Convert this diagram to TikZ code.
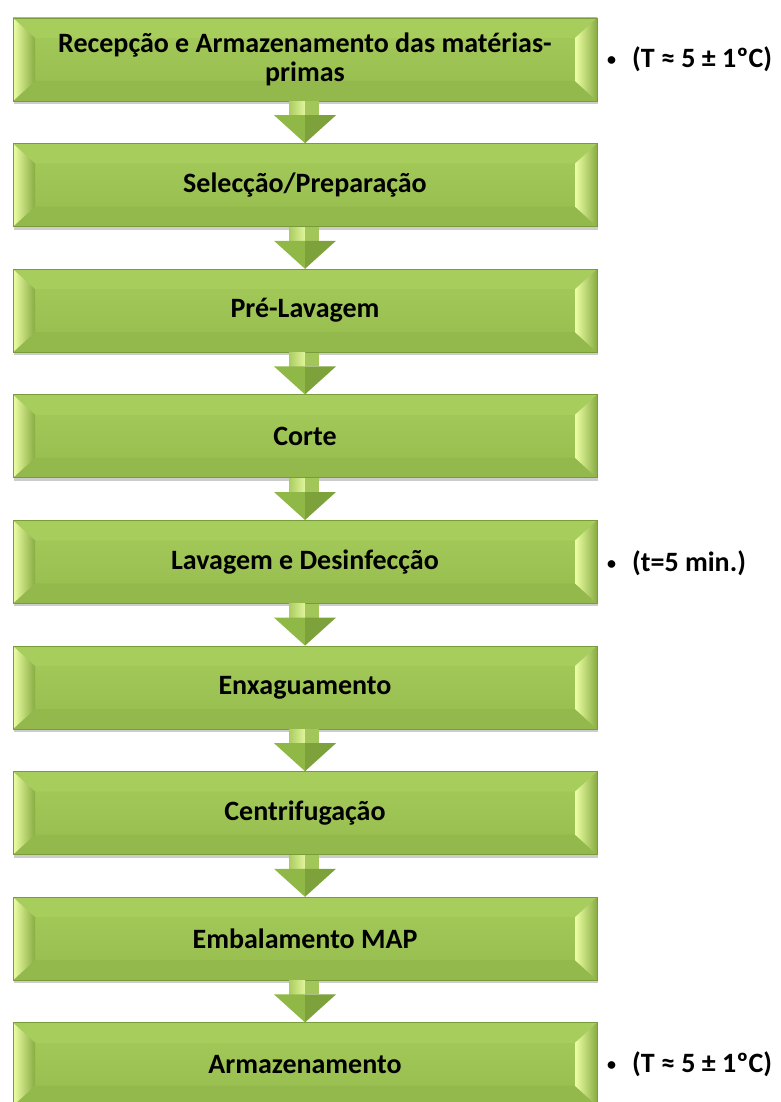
\documentclass[tikz,border=0pt]{standalone}
\usepackage{fontspec}
\setmainfont{Carlito}
\usetikzlibrary{calc,shadows}
\definecolor{boxtop}{HTML}{A5CB5B}
\definecolor{boxbot}{HTML}{96BC4E}
\definecolor{boxline}{HTML}{789C3A}
\definecolor{bevlight}{HTML}{EEFFA6}
\definecolor{bevdark}{HTML}{88AC42}
\definecolor{bevtop}{HTML}{A7CD5D}
\definecolor{bevbot}{HTML}{93B84B}
\definecolor{shaftA}{HTML}{A9CD60}
\definecolor{shaftB}{HTML}{E2F59C}
\definecolor{shaftC}{HTML}{A2C65A}
\definecolor{headL}{HTML}{8FB847}
\definecolor{headR}{HTML}{7DA23B}
\tikzset{
  stepbox/.style={rectangle, draw=boxline, line width=0.8pt, top color=boxtop, bottom color=boxbot,
    minimum width=584pt, minimum height=83pt, inner sep=0pt, align=center,
    font=\bfseries\fontsize{28}{28.5}\selectfont, text=black,
    drop shadow={shadow xshift=1pt, shadow yshift=-3pt, opacity=0.2, fill=black},
    path picture={
      \fill[bevtop] (path picture bounding box.north west) -- ++(22,20) -- ($(path picture bounding box.north east)+(-22,20)$) -- (path picture bounding box.north east) -- cycle;
      \fill[bevbot] (path picture bounding box.south west) -- ++(22,-20) -- ($(path picture bounding box.south east)+(-22,-20)$) -- (path picture bounding box.south east) -- cycle;
      \shade[left color=bevlight, right color=bevdark] (path picture bounding box.north west) -- ++(22,20) -- ++(0,43) -- (path picture bounding box.south west) -- cycle;
      \shade[left color=bevlight, right color=bevdark] (path picture bounding box.north east) -- ++(-22,20) -- ++(0,43) -- (path picture bounding box.south east) -- cycle;
    }},
  note/.style={anchor=west, inner sep=0pt, font=\bfseries\fontsize{28}{28}\selectfont, text=black},
}
\newcommand\nbul{\raisebox{2pt}{\fontsize{18}{18}\selectfont •}\hspace{16pt}}
\newcommand\flowarrow[2]{%
  \shade[left color=shaftA, right color=shaftB] ($(#1.south)+(-16,0)$) rectangle ($(#2.north)+(0,-28)$);
  \fill[shaftC] (#1.south) rectangle ($(#2.north)+(14,-28)$);
  \fill[headL] ($(#2.north)+(-31,-28)$) -- ($(#2.north)+(0,-28)$) -- (#2.north) -- cycle;
  \fill[headR] ($(#2.north)+(0,-28)$) -- ($(#2.north)+(31,-28)$) -- (#2.north) -- cycle;
}
\begin{document}
\begin{tikzpicture}[x=1pt, y=-1pt]
\useasboundingbox (0,0) rectangle (780,1102);
\node[stepbox] (b1) at (305,59.5) {Recepção e Armazenamento das matérias-\\primas};
\node[stepbox] (b2) at (305,185.1) {Selecção/Preparação};
\node[stepbox] (b3) at (305,310.7) {Pré-Lavagem};
\node[stepbox] (b4) at (305,436.3) {Corte};
\node[stepbox] (b5) at (305,561.9) {Lavagem e Desinfecção};
\node[stepbox] (b6) at (305,687.5) {Enxaguamento};
\node[stepbox] (b7) at (305,813.1) {Centrifugação};
\node[stepbox] (b8) at (305,938.7) {Embalamento MAP};
\node[stepbox] (b9) at (305,1064.3) {Armazenamento};
\flowarrow{b1}{b2}
\flowarrow{b2}{b3}
\flowarrow{b3}{b4}
\flowarrow{b4}{b5}
\flowarrow{b5}{b6}
\flowarrow{b6}{b7}
\flowarrow{b7}{b8}
\flowarrow{b8}{b9}
\node[note] (n1) at (607,59.5) {\nbul(T ≈ 5 ± 1ºC)};
\node[note] (n5) at (607,563) {\nbul(t=5 min.)};
\node[note] (n9) at (607,1064.3) {\nbul(T ≈ 5 ± 1ºC)};
\end{tikzpicture}
\end{document}
